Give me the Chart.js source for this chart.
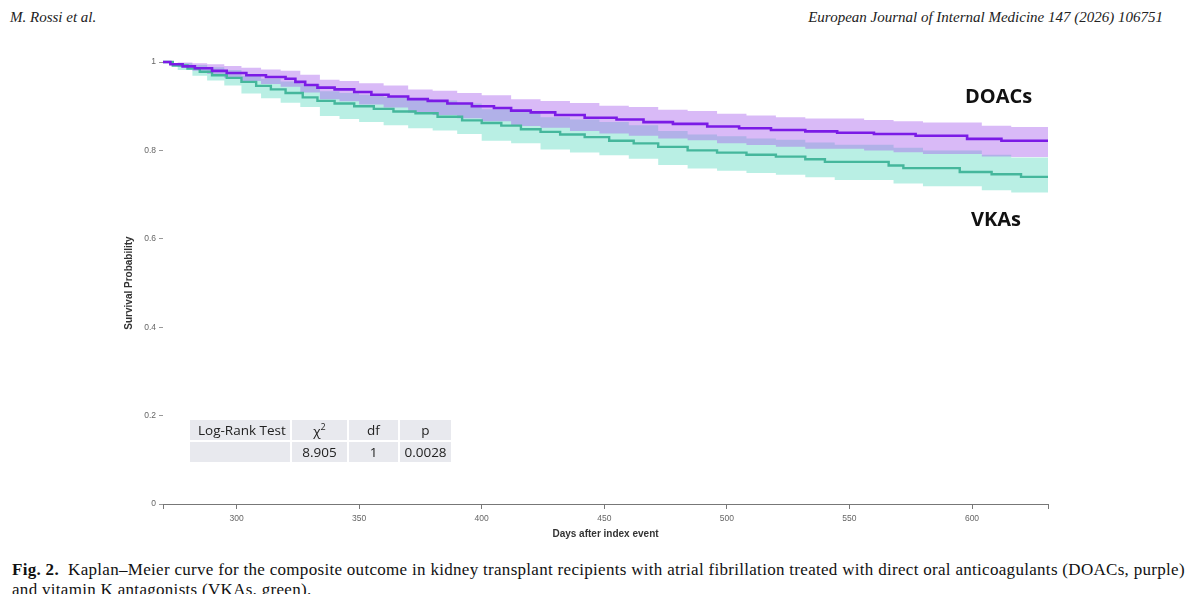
<!DOCTYPE html>
<html>
<head>
<meta charset="UTF-8">
<title>Kaplan-Meier DOACs vs VKAs</title>
<style>
body {
	margin: 0;
	background-color: #ffffff;
	width: 1200px;
	height: 594px;
	overflow: hidden;
	position: relative;
	font-family: "Liberation Sans", Arial, sans-serif;
}
.header {
	position: absolute;
	top: 9px;
	font-family: "Liberation Serif", serif;
	font-style: italic;
	font-size: 15px;
	color: #222;
}
.header.left { left: 10px; }
.header.right { right: 37px; }

.chart-box {
	position: absolute;
	left: 100px;
	top: 50px;
	width: 960px;
	height: 500px;
}

.group-label {
	position: absolute;
	font-family: "Open Sans", sans-serif;
	font-weight: 700;
	font-size: 20px;
	color: #111;
}

.logrank {
	position: absolute;
	left: 188px;
	top: 418px;
	border-collapse: separate;
	border-spacing: 2px;
	font-family: "Open Sans", sans-serif;
	font-size: 13.5px;
	color: #222;
	white-space: nowrap;
}
.logrank td {
	background-color: #e8e9ee;
	height: 20px;
	padding: 0;
	text-align: center;
}
.logrank td.first { text-align: left; padding-left: 8px; width: 92px; }

.caption {
	position: absolute;
	left: 12px;
	top: 560px;
	font-family: "Liberation Serif", serif;
	font-size: 17px;
	letter-spacing: 0.3px;
	line-height: 20px;
	color: #111;
	white-space: nowrap;
}
</style>
<script src="https://cdn.jsdelivr.net/npm/chart.js"></script>
<script>
// Kaplan-Meier step points (day, survival)
var doacDays = [270, 273, 278, 283, 290, 296, 304, 312, 320, 324, 328, 333, 340, 348, 355, 362, 370, 378, 386, 396,
	405, 412, 420, 430, 442, 455, 466, 478, 492, 505, 518, 532, 545, 560, 577, 598, 612, 631];
var doacSurv = [1.000, 0.995, 0.990, 0.986, 0.980, 0.975, 0.970, 0.966, 0.962, 0.955, 0.948, 0.942, 0.938, 0.932, 0.926, 0.922, 0.916, 0.912, 0.906, 0.900,
	0.896, 0.890, 0.886, 0.880, 0.874, 0.870, 0.864, 0.860, 0.854, 0.850, 0.846, 0.843, 0.840, 0.837, 0.833, 0.826, 0.822, 0.822];

var vkaDays = [270, 274, 280, 285, 290, 296, 302, 308, 314, 320, 327, 333, 340, 348, 356, 364, 373, 382, 392, 400,
	408, 416, 424, 432, 442, 452, 462, 472, 484, 496, 508, 520, 532, 540, 566, 572, 595, 608, 620, 631];
var vkaSurv = [1.000, 0.992, 0.985, 0.978, 0.970, 0.964, 0.955, 0.946, 0.938, 0.930, 0.920, 0.912, 0.906, 0.900, 0.894, 0.888, 0.884, 0.876, 0.868, 0.862,
	0.856, 0.848, 0.842, 0.836, 0.830, 0.822, 0.816, 0.808, 0.800, 0.795, 0.790, 0.786, 0.780, 0.774, 0.766, 0.760, 0.751, 0.746, 0.740, 0.740];

// 95% confidence bands
var bandDays = [270, 276, 282, 288, 295, 302, 310, 318, 326, 334, 342, 350, 360, 370, 380, 390, 400, 412, 424, 436,
	448, 460, 472, 484, 496, 508, 520, 532, 544, 556, 568, 580, 592, 604, 616, 631];
var doacUpper = [1.000, 0.999, 0.997, 0.995, 0.991, 0.987, 0.983, 0.980, 0.971, 0.960, 0.957, 0.952, 0.947, 0.938, 0.935, 0.930, 0.925, 0.916, 0.912, 0.907,
	0.901, 0.898, 0.892, 0.889, 0.883, 0.879, 0.875, 0.872, 0.872, 0.869, 0.866, 0.863, 0.863, 0.856, 0.853, 0.853];
var doacLower = [1.000, 0.989, 0.980, 0.973, 0.964, 0.957, 0.950, 0.944, 0.931, 0.916, 0.911, 0.904, 0.897, 0.885, 0.880, 0.873, 0.866, 0.855, 0.851, 0.844,
	0.838, 0.833, 0.827, 0.823, 0.816, 0.812, 0.808, 0.804, 0.804, 0.800, 0.796, 0.792, 0.792, 0.786, 0.785, 0.785];
var vkaUpper = [1.000, 0.997, 0.993, 0.988, 0.982, 0.969, 0.962, 0.956, 0.950, 0.934, 0.930, 0.926, 0.921, 0.916, 0.913, 0.906, 0.893, 0.888, 0.875, 0.870,
	0.864, 0.857, 0.844, 0.836, 0.832, 0.827, 0.824, 0.818, 0.813, 0.813, 0.806, 0.800, 0.800, 0.790, 0.784, 0.778];
var vkaLower = [1.000, 0.982, 0.969, 0.958, 0.947, 0.929, 0.918, 0.908, 0.898, 0.878, 0.871, 0.864, 0.857, 0.850, 0.845, 0.837, 0.822, 0.816, 0.802, 0.795,
	0.789, 0.781, 0.767, 0.759, 0.754, 0.749, 0.745, 0.739, 0.733, 0.733, 0.725, 0.719, 0.719, 0.710, 0.705, 0.699];

var xTicks = [300, 350, 400, 450, 500, 550, 600];
var yTicks = [0, 0.2, 0.4, 0.6, 0.8, 1];

function pts(xs, ys) {
	return xs.map(function(x, i) { return { x: x, y: ys[i] }; });
}

document.addEventListener("DOMContentLoaded", function() {
	var ctx = document.getElementById('kmChart').getContext('2d');

	var lineOpts = { stepped: true, pointRadius: 0, fill: false, clip: 6 };
	var bandOpts = { stepped: true, pointRadius: 0, borderWidth: 0, clip: 6 };

	new Chart(ctx, {
		type: 'line',
		data: {
			datasets: [
				Object.assign({ label: 'DOACs', data: pts(doacDays, doacSurv), borderColor: '#7b1be6', borderWidth: 2.6 }, lineOpts),
				Object.assign({ label: 'VKAs', data: pts(vkaDays, vkaSurv), borderColor: '#45b79c', borderWidth: 2.4 }, lineOpts),
				Object.assign({ label: 'DOACs upper', data: pts(bandDays, doacUpper), fill: '+1', backgroundColor: 'rgba(165, 90, 235, 0.42)' }, bandOpts),
				Object.assign({ label: 'DOACs lower', data: pts(bandDays, doacLower), fill: false }, bandOpts),
				Object.assign({ label: 'VKAs upper', data: pts(bandDays, vkaUpper), fill: '+1', backgroundColor: 'rgba(100, 220, 195, 0.45)' }, bandOpts),
				Object.assign({ label: 'VKAs lower', data: pts(bandDays, vkaLower), fill: false }, bandOpts)
			]
		},
		options: {
			responsive: true,
			maintainAspectRatio: false,
			animation: false,
			layout: { padding: { left: 0, right: 12, top: 12, bottom: 0 } },
			plugins: {
				legend: { display: false },
				tooltip: { enabled: false }
			},
			scales: {
				x: {
					type: 'linear',
					min: 270,
					max: 631,
					afterFit: function(scale) { scale.height = 46; },
					afterBuildTicks: function(scale) {
						scale.ticks = [{ value: 270 }].concat(xTicks.map(function(v) { return { value: v }; }), [{ value: 631 }]);
					},
					ticks: {
						color: '#666',
						font: { size: 8.5, family: 'Liberation Sans' },
						padding: 5,
						callback: function(v) { return xTicks.indexOf(v) >= 0 ? String(v) : ''; }
					},
					grid: { drawOnChartArea: false, tickLength: 5, tickColor: '#777', tickWidth: 1 },
					border: { display: true, color: '#777', width: 1 },
					title: {
						display: true,
						text: 'Days after index event',
						color: '#333',
						font: { size: 10, weight: 'bold', family: 'Liberation Sans' },
						padding: { top: 2, bottom: 10 }
					}
				},
				y: {
					min: 0,
					max: 1,
					afterFit: function(scale) { scale.width = 63; },
					afterBuildTicks: function(scale) {
						scale.ticks = yTicks.map(function(v) { return { value: v }; });
					},
					ticks: {
						color: '#666',
						font: { size: 8.5, family: 'Liberation Sans' },
						padding: 3,
						callback: function(v) { return String(v); }
					},
					grid: { drawOnChartArea: false, tickLength: 4, tickColor: '#999', tickWidth: 1 },
					border: { display: false },
					title: {
						display: true,
						text: 'Survival Probability',
						color: '#333',
						font: { size: 10, weight: 'bold', family: 'Liberation Sans' },
						padding: { top: 23, bottom: 0 }
					}
				}
			}
		}
	});
});
</script>
</head>
<body>
	<div class="header left">M. Rossi et al.</div>
	<div class="header right">European Journal of Internal Medicine 147 (2026) 106751</div>

	<div class="chart-box">
		<canvas id="kmChart"></canvas>
	</div>

	<div class="group-label" style="left: 965px; top: 82px;">DOACs</div>
	<div class="group-label" style="left: 971px; top: 205px;">VKAs</div>

	<table class="logrank">
		<tr><td class="first">Log-Rank Test</td><td style="width:55px">χ<sup style="font-size:9px">2</sup></td><td style="width:49px">df</td><td style="width:51px">p</td></tr>
		<tr><td class="first"></td><td>8.905</td><td>1</td><td>0.0028</td></tr>
	</table>

	<div class="caption">
		<b>Fig. 2.</b>&nbsp; Kaplan–Meier curve for the composite outcome in kidney transplant recipients with atrial fibrillation treated with direct oral anticoagulants (DOACs, purple)<br>
		and vitamin K antagonists (VKAs, green).
	</div>
</body>
</html>
